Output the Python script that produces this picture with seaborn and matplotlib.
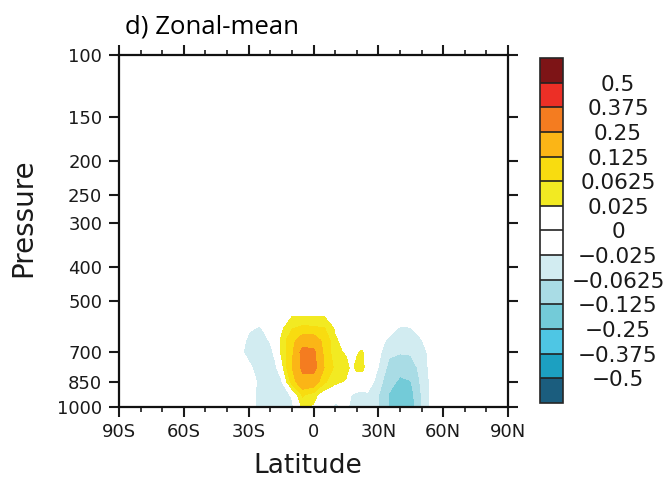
import numpy as np
import matplotlib
matplotlib.use('Agg')
import matplotlib.pyplot as plt
from matplotlib.ticker import MultipleLocator, NullLocator
import seaborn as sns


# latitude columns (deg, S negative) and pressure rows (hPa)
lats = [-40, -35, -30, -25, -20, -17.5, -15, -10, -5, 0, 5, 10, 15, 17.5,
        20, 22.5, 25, 30, 35, 40, 45, 50, 55, 60]
levs = [500, 550, 600, 650, 700, 775, 850, 925, 1000]

p500 = [0, 0, 0, 0, 0, 0, 0, 0, 0, 0, 0, 0, 0, 0, 0, 0, 0, 0, 0, 0, 0, 0, 0, 0]
p550 = [0, 0, 0, 0, 0, 0, 0, 0.02, 0.022, 0.022, 0.02, 0, 0, 0, 0, 0, 0, 0, 0, 0, 0, 0, 0, 0]
p600 = [0, 0, -0.02, -0.03, -0.01, 0, 0.015, 0.06, 0.075, 0.07, 0.065, 0.02, 0, 0,
        0, 0, 0, 0, -0.01, -0.03, -0.028, -0.01, 0, 0]
p650 = [0, 0, -0.035, -0.045, -0.022, -0.01, 0.03, 0.1, 0.18, 0.18, 0.1, 0.03, 0.01, 0,
        0, 0, 0, -0.008, -0.035, -0.045, -0.045, -0.028, 0, 0]
p700 = [0, -0.01, -0.04, -0.05, -0.035, -0.015, 0.03, 0.1, 0.3, 0.28, 0.1, 0.035, 0.02, 0.01,
        0.02, 0.03, 0, -0.015, -0.055, -0.058, -0.056, -0.045, -0.005, 0]
p775 = [0, 0, -0.015, -0.045, -0.04, -0.03, 0, 0.12, 0.28, 0.3, 0.12, 0.05, 0.04, 0.015,
        0.035, 0.04, 0, -0.026, -0.075, -0.1, -0.09, -0.045, -0.012, 0]
p850 = [0, 0, 0, -0.035, -0.045, -0.045, -0.035, 0.08, 0.2, 0.18, 0.07, 0.035, 0.02, 0,
        -0.005, -0.01, -0.005, -0.04, -0.1, -0.14, -0.128, -0.05, -0.015, 0]
p925 = [0, 0, 0, -0.04, -0.045, -0.045, -0.045, -0.02, 0.07, 0.04, 0, -0.015, -0.02, -0.025,
        -0.03, -0.03, -0.03, -0.06, -0.13, -0.17, -0.15, -0.06, -0.015, 0]
p1000 = [0, 0, 0, -0.04, -0.045, -0.045, -0.045, -0.035, 0.035, 0.02, -0.01, -0.03, -0.02, -0.03,
         -0.035, -0.03, -0.035, -0.06, -0.13, -0.18, -0.16, -0.06, -0.015, 0]

levels = [-0.5, -0.375, -0.25, -0.125, -0.0625, -0.025, 0, 0.025, 0.0625, 0.125, 0.25, 0.375, 0.5]
level_labels = ['\u22120.5', '\u22120.375', '\u22120.25', '\u22120.125', '\u22120.0625', '\u22120.025',
                '0', '0.025', '0.0625', '0.125', '0.25', '0.375', '0.5']
# bottom (< -0.5) to top (> 0.5)
colors = ['#1b5d7e', '#1ca0c1', '#4ec6e4', '#73cbd8', '#a9dce5', '#d2ecf1', '#ffffff',
          '#ffffff', '#f2ea22', '#f8dc10', '#fbb516', '#f47c20', '#ec2f26', '#7d1416']

xtick_vals = [-90, -60, -30, 0, 30, 60, 90]
xtick_labels = ['90S', '60S', '30S', '0', '30N', '60N', '90N']
ytick_vals = [100, 150, 200, 250, 300, 400, 500, 700, 850, 1000]


sns.set_style('ticks')
plt.rcParams['font.family'] = ['DejaVu Sans']

# pad the read region with zeros out to the full domain
data = np.array([p500, p550, p600, p650, p700, p775, p850, p925, p1000])
data = np.pad(data, ((1, 0), (1, 1)))
lat_full = [-90] + lats + [90]
lev_full = [100] + levs

fig = plt.figure(figsize=(6.71, 4.79), dpi=100)
ax = fig.add_axes([119 / 671, 1 - 406.5 / 479, 389 / 671, 351.5 / 479])
cax = fig.add_axes([540 / 671, 1 - 403 / 479, 23 / 671, 345 / 479])

cf = ax.contourf(lat_full, lev_full, data, levels=levels, colors=colors, extend='both')

ax.set_yscale('log')
ax.set_ylim(1000, 100)
ax.set_xlim(-90, 90)
ax.set_yticks(ytick_vals)
ax.set_yticklabels([str(v) for v in ytick_vals])
ax.yaxis.set_minor_locator(NullLocator())
ax.set_xticks(xtick_vals)
ax.set_xticklabels(xtick_labels)
ax.xaxis.set_minor_locator(MultipleLocator(10))
ax.tick_params(which='major', direction='out', length=7, width=1.5, top=True, right=True,
               labelsize=13, colors='#1a1a1a', pad=5)
ax.tick_params(which='minor', direction='out', length=3.5, width=1.2, top=True,
               colors='#1a1a1a')
for s in ax.spines.values():
    s.set_linewidth(1.6)
    s.set_color('#111111')
    s.set_visible(True)

cbar = fig.colorbar(cf, cax=cax, extendrect=True, extendfrac='auto', drawedges=True, ticks=levels)
cbar.set_ticklabels(level_labels)
cbar.outline.set_linewidth(1.2)
cbar.dividers.set_linewidth(1.2)
cbar.dividers.set_color('#222222')
cax.tick_params(axis='y', length=0, pad=39.6, labelsize=15.5, colors='#1a1a1a')
for t in cax.get_yticklabels():
    t.set_horizontalalignment('center')

fig.text(125 / 671, 1 - 33 / 479, 'd) Zonal-mean', fontsize=18.5, family=['Open Sans', 'DejaVu Sans'],
         ha='left', va='baseline', color='black')
fig.text(23 / 671, 1 - 218 / 479, 'Pressure', fontsize=20, rotation=90, ha='center', va='center',
         color='#1a1a1a')
fig.text(308 / 671, 1 - 466 / 479, 'Latitude', fontsize=19, ha='center', va='center', color='#1a1a1a')

fig.savefig('out.png', dpi=100)
